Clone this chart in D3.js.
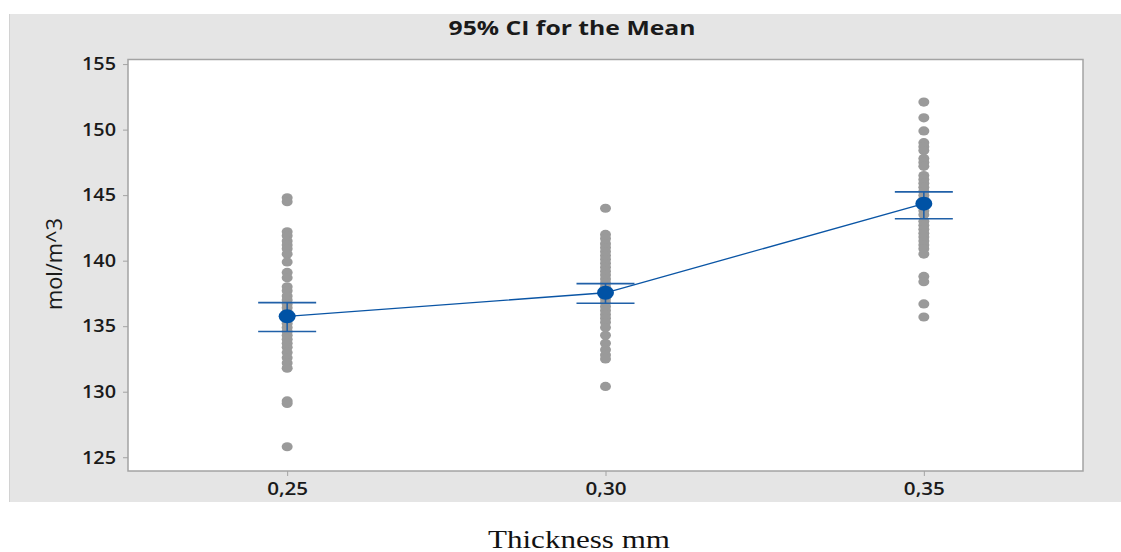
<!DOCTYPE html>
<html>
<head>
<meta charset="utf-8">
<script src="https://cdn.jsdelivr.net/npm/d3@7"></script>
<style>
    body { margin: 0; background: #ffffff; }
    svg { display: block; }
</style>
</head>
<body>
<svg></svg>
<script>
// groups on the x axis
const thickness = [0.25, 0.30, 0.35];
const xTicks = [0.25, 0.30, 0.35];
const yTicks = [125, 130, 135, 140, 145, 150, 155];

// individual observations for each thickness
const obs025 = [144.8, 144.5, 142.2, 141.9, 141.5, 141.2, 140.9, 140.5, 139.9, 139.1, 138.7,
    138.0, 137.7, 137.3, 137.0, 136.7, 136.4, 136.1, 135.8, 135.5, 135.2, 134.9, 134.6,
    134.3, 134.0, 133.7, 133.4, 133.0, 132.6, 132.2, 131.8, 129.3, 129.1, 125.8];
const obs030 = [144.0, 142.0, 141.7, 141.3, 141.0, 140.7, 140.4, 140.1, 139.8, 139.5, 139.2,
    138.9, 138.6, 138.3, 138.0, 137.7, 137.4, 137.1, 136.8, 136.5, 136.2, 135.9, 135.6,
    135.3, 134.9, 134.3, 133.7, 133.2, 132.8, 132.5, 130.4];
const obs035 = [152.1, 150.9, 149.9, 149.0, 148.7, 148.4, 147.8, 147.5, 147.2, 146.5, 146.2,
    145.9, 145.6, 145.3, 145.0, 144.7, 144.4, 144.1, 143.8, 143.5, 143.0, 142.7, 142.4,
    142.1, 141.8, 141.5, 141.2, 140.9, 140.5, 138.8, 138.4, 136.7, 135.7];

// means and 95% confidence interval
const means = [135.75, 137.55, 144.35];
const ciLow = [134.6, 136.75, 143.2];
const ciHigh = [136.8, 138.25, 145.25];

drawChart();

function drawChart(){
    const width = 1121;
    const height = 552;
    const plot = { left: 128, right: 1083, top: 59.5, bottom: 471 };

    const svg = d3.select("svg")
                    .attr("width", width)
                    .attr("height", height);

    // grey panel behind the plot
    svg.append("rect")
        .attr("x", 9).attr("y", 14)
        .attr("width", width - 9).attr("height", 488)
        .attr("fill", "#e5e5e5");
    svg.append("line")
        .attr("x1", 9.5).attr("x2", 9.5)
        .attr("y1", 14).attr("y2", 502)
        .attr("stroke", "#d2d2d2");

    // plot area
    svg.append("rect")
        .attr("x", plot.left).attr("y", plot.top)
        .attr("width", plot.right - plot.left).attr("height", plot.bottom - plot.top)
        .attr("fill", "#ffffff")
        .attr("stroke", "#a3a3a3")
        .attr("stroke-width", 1.5);

    const xScale = d3.scaleLinear()
                        .domain([0.225, 0.375])
                        .range([plot.left, plot.right]);

    const yScale = d3.scaleLinear()
                        .domain([123.95, 155.35])
                        .range([plot.bottom, plot.top]);

    const fmt = d => d3.format(".2f")(d).replace(".", ",");

    const xAxis = d3.axisBottom(xScale).tickValues(xTicks).tickFormat(fmt).tickSize(5).tickPadding(6);
    const yAxis = d3.axisLeft(yScale).tickValues(yTicks).tickSize(5).tickPadding(7);

    const gx = svg.append("g")
        .attr("transform", `translate(0, ${plot.bottom})`)
        .call(xAxis);
    const gy = svg.append("g")
        .attr("transform", `translate(${plot.left}, 0)`)
        .call(yAxis);

    [gx, gy].forEach(g => {
        g.select(".domain").remove();
        g.selectAll(".tick line").attr("stroke", "#a3a3a3");
        g.selectAll(".tick text")
            .attr("fill", "#1a1a1a")
            .attr("lengthAdjust", "spacingAndGlyphs")
            .style("font-family", "'Open Sans'")
            .style("font-weight", "600")
            .style("font-size", "18px");
    });
    //stretch labels a bit, the original is wider
    gx.selectAll(".tick text").attr("textLength", 41);
    gy.selectAll(".tick text").attr("textLength", 34);

    // observations
    const groups = [obs025, obs030, obs035];
    groups.forEach((vals, i) => {
        svg.append("g")
            .selectAll("ellipse")
            .data(vals)
            .enter()
            .append("ellipse")
            .attr("cx", xScale(thickness[i]))
            .attr("cy", d => yScale(d))
            .attr("rx", 5.5)
            .attr("ry", 4.6)
            .attr("fill", "#9a9a9a");
    });

    // confidence intervals
    const ci = svg.append("g").attr("stroke", "#2060a8").attr("stroke-width", 1.6);
    thickness.forEach((t, i) => {
        const cx = xScale(t);
        ci.append("line")
            .attr("x1", cx).attr("x2", cx)
            .attr("y1", yScale(ciLow[i])).attr("y2", yScale(ciHigh[i]));
        ci.append("line")
            .attr("x1", cx - 29).attr("x2", cx + 29)
            .attr("y1", yScale(ciLow[i])).attr("y2", yScale(ciLow[i]));
        ci.append("line")
            .attr("x1", cx - 29).attr("x2", cx + 29)
            .attr("y1", yScale(ciHigh[i])).attr("y2", yScale(ciHigh[i]));
    });

    // line through means
    const line = d3.line()
                    .x((d, i) => xScale(thickness[i]))
                    .y(d => yScale(d));
    svg.append("path")
        .datum(means)
        .attr("d", line)
        .attr("fill", "none")
        .attr("stroke", "#0a55a5")
        .attr("stroke-width", 1.3);

    svg.selectAll(".mean")
        .data(means)
        .enter()
        .append("ellipse")
        .attr("class", "mean")
        .attr("cx", (d, i) => xScale(thickness[i]))
        .attr("cy", d => yScale(d))
        .attr("rx", 8.5)
        .attr("ry", 7)
        .attr("fill", "#0052a5");

    // titles
    svg.append("text")
        .attr("x", 572)
        .attr("y", 35)
        .attr("text-anchor", "middle")
        .attr("textLength", 247)
        .attr("lengthAdjust", "spacingAndGlyphs")
        .style("font-family", "'Open Sans'")
        .style("font-weight", "700")
        .style("font-size", "19px")
        .attr("fill", "#1a1a1a")
        .text("95% CI for the Mean");

    svg.append("text")
        .attr("transform", "rotate(-90)")
        .attr("x", -264)
        .attr("y", 62)
        .attr("text-anchor", "middle")
        .attr("textLength", 92)
        .attr("lengthAdjust", "spacingAndGlyphs")
        .style("font-family", "'Open Sans'")
        .style("font-weight", "500")
        .style("font-size", "21px")
        .attr("fill", "#1a1a1a")
        .text("mol/m^3");

    svg.append("text")
        .attr("x", 579)
        .attr("y", 548)
        .attr("text-anchor", "middle")
        .attr("textLength", 182)
        .attr("lengthAdjust", "spacingAndGlyphs")
        .style("font-family", "'Liberation Serif'")
        .style("font-size", "25px")
        .attr("fill", "#111111")
        .text("Thickness mm");
}
</script>
</body>
</html>
